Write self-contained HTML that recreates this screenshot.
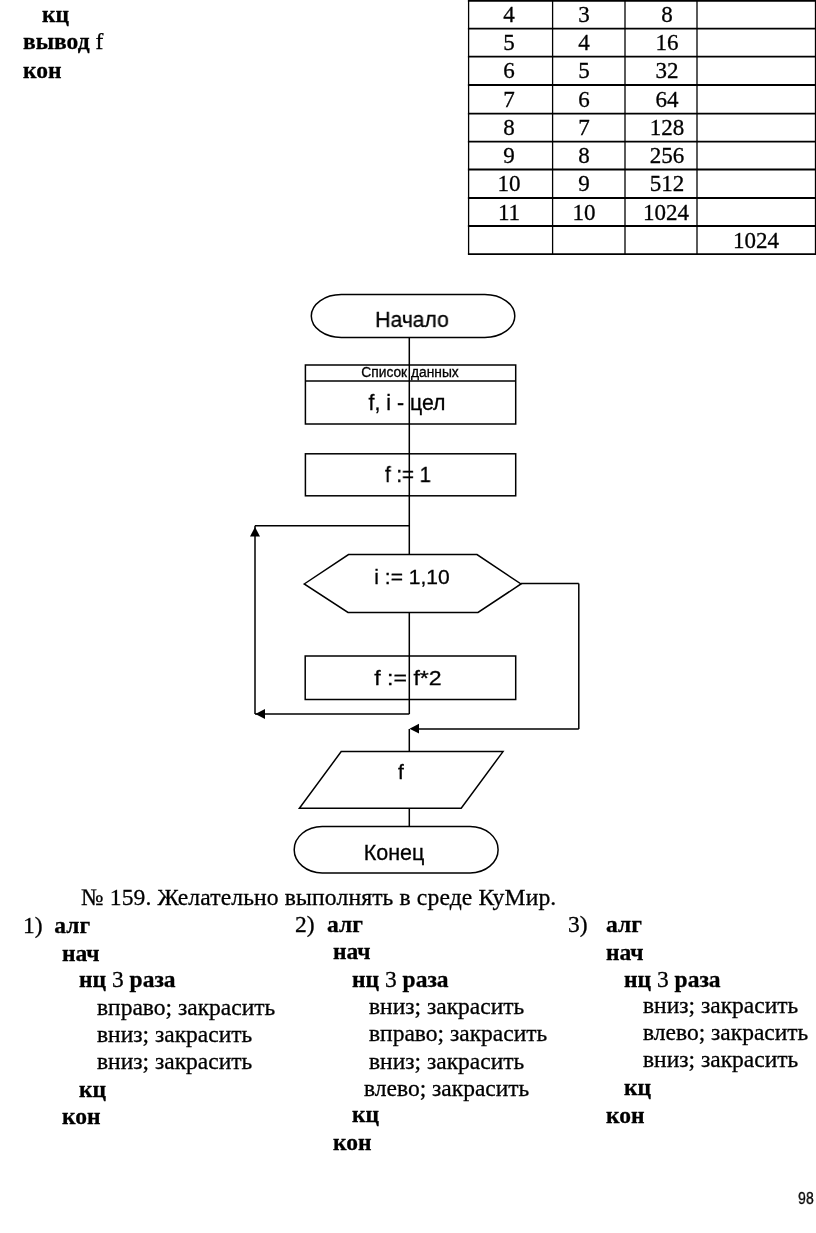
<!DOCTYPE html>
<html><head><meta charset="utf-8"><style>
html,body{margin:0;padding:0;background:#fff;}
.t{will-change:transform;}
body{width:816px;height:1233px;position:relative;overflow:hidden;}
.t{position:absolute;white-space:nowrap;line-height:1;color:#000;-webkit-text-stroke:0.3px #000;}
svg{position:absolute;left:0;top:0;}
</style></head><body>
<svg width="816" height="1233" viewBox="0 0 816 1233">
<line x1="467.90000000000003" y1="0.9" x2="816.2" y2="0.9" stroke="#000" stroke-width="1.8"/>
<line x1="467.90000000000003" y1="28.6" x2="816.2" y2="28.6" stroke="#000" stroke-width="1.8"/>
<line x1="467.90000000000003" y1="56.7" x2="816.2" y2="56.7" stroke="#000" stroke-width="1.8"/>
<line x1="467.90000000000003" y1="85.0" x2="816.2" y2="85.0" stroke="#000" stroke-width="1.8"/>
<line x1="467.90000000000003" y1="113.6" x2="816.2" y2="113.6" stroke="#000" stroke-width="1.8"/>
<line x1="467.90000000000003" y1="141.6" x2="816.2" y2="141.6" stroke="#000" stroke-width="1.8"/>
<line x1="467.90000000000003" y1="169.5" x2="816.2" y2="169.5" stroke="#000" stroke-width="1.8"/>
<line x1="467.90000000000003" y1="198.0" x2="816.2" y2="198.0" stroke="#000" stroke-width="1.8"/>
<line x1="467.90000000000003" y1="226.0" x2="816.2" y2="226.0" stroke="#000" stroke-width="1.8"/>
<line x1="467.90000000000003" y1="254.2" x2="816.2" y2="254.2" stroke="#000" stroke-width="1.8"/>
<line x1="468.6" y1="0" x2="468.6" y2="254.2" stroke="#000" stroke-width="1.3"/>
<line x1="552.6" y1="0" x2="552.6" y2="254.2" stroke="#000" stroke-width="1.3"/>
<line x1="625.0" y1="0" x2="625.0" y2="254.2" stroke="#000" stroke-width="1.3"/>
<line x1="697.0" y1="0" x2="697.0" y2="254.2" stroke="#000" stroke-width="1.3"/>
<line x1="815.5" y1="0" x2="815.5" y2="254.2" stroke="#000" stroke-width="1.3"/>
<rect x="311.3" y="294.5" width="203.5" height="43" rx="30" ry="21.5" fill="none" stroke="#000" stroke-width="1.5"/>
<rect x="305.4" y="365" width="210.3" height="59" fill="none" stroke="#000" stroke-width="1.5"/>
<line x1="305.4" y1="381" x2="515.7" y2="381" stroke="#000" stroke-width="1.5"/>
<rect x="305.4" y="453.8" width="210.3" height="42" fill="none" stroke="#000" stroke-width="1.5"/>
<line x1="409.3" y1="338" x2="409.3" y2="714" stroke="#000" stroke-width="1.5"/>
<line x1="409.3" y1="525.8" x2="255" y2="525.8" stroke="#000" stroke-width="1.5"/>
<line x1="255" y1="525.8" x2="255" y2="714" stroke="#000" stroke-width="1.5"/>
<line x1="255" y1="714" x2="409.3" y2="714" stroke="#000" stroke-width="1.5"/>
<polygon points="255,527 250,536.5 260,536.5" fill="#000"/>
<polygon points="255.3,714 265,708.9 265,719" fill="#000"/>
<polygon points="304.2,584 348.5,554.6 477,554.6 521,584 478,612.4 348,612.4" fill="#fff" stroke="#000" stroke-width="1.5"/>
<rect x="305.2" y="656" width="210.5" height="43.5" fill="none" stroke="#000" stroke-width="1.5"/>
<line x1="521" y1="583.6" x2="578.8" y2="583.6" stroke="#000" stroke-width="1.5"/>
<line x1="578.8" y1="583.6" x2="578.8" y2="729" stroke="#000" stroke-width="1.5"/>
<line x1="578.8" y1="729" x2="412" y2="729" stroke="#000" stroke-width="1.5"/>
<polygon points="409.5,728.7 419,723.8 419,733.6" fill="#000"/>
<line x1="409.3" y1="729" x2="409.3" y2="751.5" stroke="#000" stroke-width="1.5"/>
<polygon points="341.2,751.6 503,751.6 461.2,808.2 299.4,808.2" fill="none" stroke="#000" stroke-width="1.5"/>
<line x1="409.3" y1="808.2" x2="409.3" y2="826.5" stroke="#000" stroke-width="1.5"/>
<rect x="294.2" y="826.5" width="203.9" height="46.4" rx="28" ry="23.2" fill="none" stroke="#000" stroke-width="1.5"/>
</svg>
<div class="t" style="left:41.60px;top:3.12px;font-size:23.5px;font-family:'Liberation Serif', serif;font-weight:bold;">кц</div>
<div class="t" style="left:23.20px;top:30.32px;font-size:23.5px;font-family:'Liberation Serif', serif;"><b>вывод</b> f</div>
<div class="t" style="left:23.20px;top:59.02px;font-size:23.5px;font-family:'Liberation Serif', serif;font-weight:bold;">кон</div>
<div class="t" style="left:509.00px;top:2.94px;font-size:23px;font-family:'Liberation Serif', serif;transform:translateX(-50%);transform-origin:50% 0;">4</div>
<div class="t" style="left:584.00px;top:2.94px;font-size:23px;font-family:'Liberation Serif', serif;transform:translateX(-50%);transform-origin:50% 0;">3</div>
<div class="t" style="left:667.00px;top:2.94px;font-size:23px;font-family:'Liberation Serif', serif;transform:translateX(-50%);transform-origin:50% 0;">8</div>
<div class="t" style="left:509.00px;top:31.14px;font-size:23px;font-family:'Liberation Serif', serif;transform:translateX(-50%);transform-origin:50% 0;">5</div>
<div class="t" style="left:584.00px;top:31.14px;font-size:23px;font-family:'Liberation Serif', serif;transform:translateX(-50%);transform-origin:50% 0;">4</div>
<div class="t" style="left:667.00px;top:31.14px;font-size:23px;font-family:'Liberation Serif', serif;transform:translateX(-50%);transform-origin:50% 0;">16</div>
<div class="t" style="left:509.00px;top:59.24px;font-size:23px;font-family:'Liberation Serif', serif;transform:translateX(-50%);transform-origin:50% 0;">6</div>
<div class="t" style="left:584.00px;top:59.24px;font-size:23px;font-family:'Liberation Serif', serif;transform:translateX(-50%);transform-origin:50% 0;">5</div>
<div class="t" style="left:667.00px;top:59.24px;font-size:23px;font-family:'Liberation Serif', serif;transform:translateX(-50%);transform-origin:50% 0;">32</div>
<div class="t" style="left:509.00px;top:87.54px;font-size:23px;font-family:'Liberation Serif', serif;transform:translateX(-50%);transform-origin:50% 0;">7</div>
<div class="t" style="left:584.00px;top:87.54px;font-size:23px;font-family:'Liberation Serif', serif;transform:translateX(-50%);transform-origin:50% 0;">6</div>
<div class="t" style="left:667.00px;top:87.54px;font-size:23px;font-family:'Liberation Serif', serif;transform:translateX(-50%);transform-origin:50% 0;">64</div>
<div class="t" style="left:509.00px;top:116.14px;font-size:23px;font-family:'Liberation Serif', serif;transform:translateX(-50%);transform-origin:50% 0;">8</div>
<div class="t" style="left:584.00px;top:116.14px;font-size:23px;font-family:'Liberation Serif', serif;transform:translateX(-50%);transform-origin:50% 0;">7</div>
<div class="t" style="left:667.00px;top:116.14px;font-size:23px;font-family:'Liberation Serif', serif;transform:translateX(-50%);transform-origin:50% 0;">128</div>
<div class="t" style="left:509.00px;top:144.14px;font-size:23px;font-family:'Liberation Serif', serif;transform:translateX(-50%);transform-origin:50% 0;">9</div>
<div class="t" style="left:584.00px;top:144.14px;font-size:23px;font-family:'Liberation Serif', serif;transform:translateX(-50%);transform-origin:50% 0;">8</div>
<div class="t" style="left:667.00px;top:144.14px;font-size:23px;font-family:'Liberation Serif', serif;transform:translateX(-50%);transform-origin:50% 0;">256</div>
<div class="t" style="left:509.00px;top:172.04px;font-size:23px;font-family:'Liberation Serif', serif;transform:translateX(-50%);transform-origin:50% 0;">10</div>
<div class="t" style="left:584.00px;top:172.04px;font-size:23px;font-family:'Liberation Serif', serif;transform:translateX(-50%);transform-origin:50% 0;">9</div>
<div class="t" style="left:667.00px;top:172.04px;font-size:23px;font-family:'Liberation Serif', serif;transform:translateX(-50%);transform-origin:50% 0;">512</div>
<div class="t" style="left:509.00px;top:200.54px;font-size:23px;font-family:'Liberation Serif', serif;transform:translateX(-50%);transform-origin:50% 0;">11</div>
<div class="t" style="left:584.00px;top:200.54px;font-size:23px;font-family:'Liberation Serif', serif;transform:translateX(-50%);transform-origin:50% 0;">10</div>
<div class="t" style="left:665.50px;top:200.54px;font-size:23px;font-family:'Liberation Serif', serif;transform:translateX(-50%);transform-origin:50% 0;">1024</div>
<div class="t" style="left:756.00px;top:228.54px;font-size:23px;font-family:'Liberation Serif', serif;transform:translateX(-50%);transform-origin:50% 0;">1024</div>
<div class="t" style="left:412.00px;top:308.98px;font-size:22px;font-family:'Liberation Sans', sans-serif;transform:translateX(-50%) scaleX(0.96);transform-origin:50% 0;">Начало</div>
<div class="t" style="left:409.70px;top:365.82px;font-size:13.8px;font-family:'Liberation Sans', sans-serif;transform:translateX(-50%);transform-origin:50% 0;">Список данных</div>
<div class="t" style="left:407.30px;top:393.17px;font-size:21.3px;font-family:'Liberation Sans', sans-serif;transform:translateX(-50%);transform-origin:50% 0;">f, i - цел</div>
<div class="t" style="left:407.70px;top:464.18px;font-size:22px;font-family:'Liberation Sans', sans-serif;transform:translateX(-50%) scaleX(0.93);transform-origin:50% 0;">f := 1</div>
<div class="t" style="left:411.80px;top:565.82px;font-size:21px;font-family:'Liberation Sans', sans-serif;transform:translateX(-50%);transform-origin:50% 0;">i := 1,10</div>
<div class="t" style="left:407.70px;top:667.02px;font-size:21px;font-family:'Liberation Sans', sans-serif;transform:translateX(-50%) scaleX(1.1);transform-origin:50% 0;">f := f*2</div>
<div class="t" style="left:401.20px;top:761.02px;font-size:21px;font-family:'Liberation Sans', sans-serif;transform:translateX(-50%);transform-origin:50% 0;">f</div>
<div class="t" style="left:393.80px;top:842.50px;font-size:21.5px;font-family:'Liberation Sans', sans-serif;transform:translateX(-50%);transform-origin:50% 0;">Конец</div>
<div class="t" style="left:80.60px;top:886.44px;font-size:23.6px;font-family:'Liberation Serif', serif;letter-spacing:0.14px;">№ 159. Желательно выполнять в среде КуМир.</div>
<div class="t" style="left:22.70px;top:913.62px;font-size:23.5px;font-family:'Liberation Serif', serif;">1)&nbsp; <b>алг</b></div>
<div class="t" style="left:61.80px;top:941.52px;font-size:23.5px;font-family:'Liberation Serif', serif;font-weight:bold;">нач</div>
<div class="t" style="left:79.00px;top:968.32px;font-size:23.5px;font-family:'Liberation Serif', serif;"><b>нц</b> 3 <b>раза</b></div>
<div class="t" style="left:96.70px;top:995.82px;font-size:23.5px;font-family:'Liberation Serif', serif;">вправо; закрасить</div>
<div class="t" style="left:96.70px;top:1022.92px;font-size:23.5px;font-family:'Liberation Serif', serif;">вниз; закрасить</div>
<div class="t" style="left:96.70px;top:1050.02px;font-size:23.5px;font-family:'Liberation Serif', serif;">вниз; закрасить</div>
<div class="t" style="left:78.90px;top:1078.02px;font-size:23.5px;font-family:'Liberation Serif', serif;font-weight:bold;">кц</div>
<div class="t" style="left:62.30px;top:1105.12px;font-size:23.5px;font-family:'Liberation Serif', serif;font-weight:bold;">кон</div>
<div class="t" style="left:295.40px;top:912.92px;font-size:23.5px;font-family:'Liberation Serif', serif;">2)</div>
<div class="t" style="left:327.40px;top:912.92px;font-size:23.5px;font-family:'Liberation Serif', serif;font-weight:bold;">алг</div>
<div class="t" style="left:333.20px;top:940.32px;font-size:23.5px;font-family:'Liberation Serif', serif;font-weight:bold;">нач</div>
<div class="t" style="left:352.00px;top:967.82px;font-size:23.5px;font-family:'Liberation Serif', serif;"><b>нц</b> 3 <b>раза</b></div>
<div class="t" style="left:368.50px;top:995.32px;font-size:23.5px;font-family:'Liberation Serif', serif;">вниз; закрасить</div>
<div class="t" style="left:368.50px;top:1022.32px;font-size:23.5px;font-family:'Liberation Serif', serif;">вправо; закрасить</div>
<div class="t" style="left:368.50px;top:1049.52px;font-size:23.5px;font-family:'Liberation Serif', serif;">вниз; закрасить</div>
<div class="t" style="left:364.10px;top:1076.92px;font-size:23.5px;font-family:'Liberation Serif', serif;">влево; закрасить</div>
<div class="t" style="left:352.00px;top:1103.32px;font-size:23.5px;font-family:'Liberation Serif', serif;font-weight:bold;">кц</div>
<div class="t" style="left:333.20px;top:1130.82px;font-size:23.5px;font-family:'Liberation Serif', serif;font-weight:bold;">кон</div>
<div class="t" style="left:567.90px;top:912.92px;font-size:23.5px;font-family:'Liberation Serif', serif;">3)</div>
<div class="t" style="left:606.00px;top:912.92px;font-size:23.5px;font-family:'Liberation Serif', serif;font-weight:bold;">алг</div>
<div class="t" style="left:606.00px;top:940.62px;font-size:23.5px;font-family:'Liberation Serif', serif;font-weight:bold;">нач</div>
<div class="t" style="left:624.30px;top:967.72px;font-size:23.5px;font-family:'Liberation Serif', serif;"><b>нц</b> 3 <b>раза</b></div>
<div class="t" style="left:642.90px;top:994.32px;font-size:23.5px;font-family:'Liberation Serif', serif;">вниз; закрасить</div>
<div class="t" style="left:642.90px;top:1021.32px;font-size:23.5px;font-family:'Liberation Serif', serif;">влево; закрасить</div>
<div class="t" style="left:642.90px;top:1048.32px;font-size:23.5px;font-family:'Liberation Serif', serif;">вниз; закрасить</div>
<div class="t" style="left:624.30px;top:1075.92px;font-size:23.5px;font-family:'Liberation Serif', serif;font-weight:bold;">кц</div>
<div class="t" style="left:606.00px;top:1103.62px;font-size:23.5px;font-family:'Liberation Serif', serif;font-weight:bold;">кон</div>
<div class="t" style="left:798.10px;top:1191.46px;font-size:16px;font-family:'Liberation Sans', sans-serif;transform:scaleX(0.88);transform-origin:0 0;">98</div>
</body></html>
